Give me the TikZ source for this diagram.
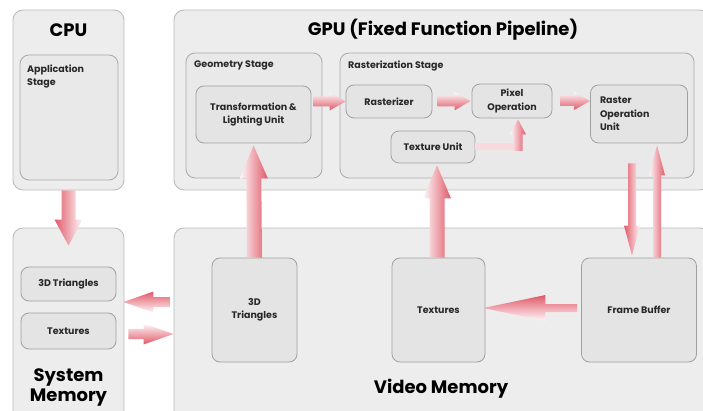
\documentclass[tikz,border=0pt]{standalone}
\usepackage{fontspec}
\setmainfont{Poppins}
\usetikzlibrary{calc}

\definecolor{flow}{RGB}{224,88,104}
\definecolor{panelfill}{RGB}{237,237,237}
\definecolor{panelline}{RGB}{188,188,188}
\definecolor{stagefill}{RGB}{233,233,233}
\definecolor{stageline}{RGB}{170,170,170}
\definecolor{unitfill}{RGB}{228,228,228}
\definecolor{unitline}{RGB}{160,160,160}
\definecolor{ink}{RGB}{40,40,40}

\begin{document}
\begin{tikzpicture}[x=1pt,y=-1pt,
  panel/.style={draw=panelline, fill=panelfill, line width=0.9pt, rounded corners=10pt, inner sep=0pt},
  stage/.style={draw=stageline, fill=stagefill, line width=0.8pt, rounded corners=9pt, inner sep=0pt},
  unit/.style={draw=unitline, fill=unitfill, line width=0.8pt, rounded corners=8pt, inner sep=2pt,
    align=center, text=ink, font=\fontsize{9.5}{13.5}\selectfont\bfseries},
  heading/.style={text=black, font=\fontsize{18}{22}\selectfont\bfseries, align=center},
  caption/.style={anchor=north west, inner sep=0pt, align=left, text=ink,
    font=\fontsize{9.5}{13}\selectfont\bfseries},
  % block arrow: half shaft width, half head width, head length
  fat/.style n args={3}{to path={
    ($(\tikztostart)!#1!90:(\tikztotarget)$)
    -- ($(\tikztotarget)!#3!(\tikztostart)!#1!90:(\tikztotarget)$)
    -- ($(\tikztotarget)!#3!(\tikztostart)!#2!90:(\tikztotarget)$)
    -- (\tikztotarget)
    -- ($(\tikztotarget)!#3!(\tikztostart)!#2!-90:(\tikztotarget)$)
    -- ($(\tikztotarget)!#3!(\tikztostart)!#1!-90:(\tikztotarget)$)
    -- ($(\tikztostart)!#1!-90:(\tikztotarget)$) -- cycle}},
  flow/.style={left color=flow!4, right color=flow, shading angle=#1, draw=none},
]
\useasboundingbox (0,0) rectangle (703,411);
\clip (0,0) rectangle (703,411);

% ---- CPU ----
\node[panel, minimum width=111pt, minimum height=180pt] (cpu) at (68.5,100) {};
\node[heading] at (68.5,30) {CPU};
\node[stage, minimum width=98pt, minimum height=125pt] (app) at (69,117.5) {};
\node[caption] at (27,65) {Application\\Stage};

% ---- GPU ----
\node[panel, minimum width=536pt, minimum height=180pt] (gpu) at (442,100) {};
\node[heading] at (443,30) {GPU (Fixed Function Pipeline)};

\node[stage, minimum width=136pt, minimum height=125pt] (geo) at (254,115.5) {};
\node[caption] at (194,61) {Geometry Stage};
\node[unit, minimum width=115pt, minimum height=57pt] (tl) at (253.5,114.5)
  {Transformation \&\\Lighting Unit};

\node[stage, minimum width=354pt, minimum height=125pt] (ras) at (517,115.5) {};
\node[caption] at (348,61) {Rasterization Stage};
\node[unit, minimum width=86pt, minimum height=33pt] (rasterizer) at (389,101.5) {Rasterizer};
\node[unit, minimum width=80pt, minimum height=34pt] (pixop) at (512,101) {Pixel\\Operation};
\node[unit, minimum width=84pt, minimum height=32pt] (texunit) at (433,147) {Texture Unit};
\node[unit, minimum width=97pt, minimum height=58pt, align=left, text width=78pt] (rop) at (639,114)
  {Raster\\Operation\\Unit};

% ---- System memory ----
\node[panel, minimum width=111pt, minimum height=200pt] (sysmem) at (68.5,328) {};
\node[unit, minimum width=95pt, minimum height=34pt] (systri) at (68.5,284) {3D Triangles};
\node[unit, minimum width=95pt, minimum height=36pt] (systex) at (68.5,331) {Textures};
\node[heading, font=\fontsize{18}{20}\selectfont\bfseries] at (68.5,387) {System\\Memory};

% ---- Video memory ----
\node[panel, minimum width=536pt, minimum height=200pt] (vidmem) at (442,328) {};
\node[unit, minimum width=85pt, minimum height=104pt] (vidtri) at (254.5,310) {3D\\Triangles};
\node[unit, minimum width=93pt, minimum height=104pt] (vidtex) at (438.5,310) {Textures};
\node[unit, minimum width=115pt, minimum height=104pt] (fb) at (639,310) {Frame Buffer};
\node[heading] at (441,389) {Video Memory};

% ---- data flow ----
\path[flow=-90] (cpu.south) to[fat={7pt}{14pt}{26pt}] ($(sysmem.north)+(0,18)$);
\path[flow=90] (vidtri.north) to[fat={7.5pt}{14pt}{33pt}] ($(tl.south)+(0,2)$);
\path[flow=90] ($(vidtex.north)+(-1.5,0)$) to[fat={7.5pt}{14pt}{33pt}] ($(vidtex.north |- texunit.south)+(-1.5,2)$);

\path[flow=0] ($(tl.east |- rasterizer.west)+(2,0)$) to[fat={5pt}{9pt}{16pt}] (rasterizer.west);
\path[flow=0] ($(rasterizer.east)+(5,0)$) to[fat={5pt}{9pt}{16pt}] ($(pixop.west)+(-1,0)$);
\path[flow=0] ($(pixop.east)+(8,0)$) to[fat={5pt}{9pt}{16pt}] (rop.west |- pixop.east);

\coordinate (elbow) at ($(pixop.south |- texunit.east)+(6,0)$);
\fill[flow!22] ($(texunit.east)+(0,-3.5)$) rectangle ($(elbow)+(4,3.5)$);
\path[flow=90] ($(elbow)+(0,4)$) to[fat={4.5pt}{8pt}{15pt}] ($(pixop.south)+(6,1)$);

\path[flow=-90] ($(rop.south)+(-7,20)$) to[fat={4pt}{8pt}{30pt}] ($(fb.north)+(-7,-2)$);
\path[flow=90] ($(fb.north)+(18,0)$) to[fat={4pt}{8pt}{30pt}] ($(rop.south)+(18,2)$);

\path[flow=180] ($(fb.west)+(-4,-2)$) to[fat={4pt}{13pt}{62pt}] ($(vidtex.east)+(-2,-2)$);

\path[flow=180] ($(vidmem.west)+(-4,-26)$) to[fat={5pt}{10.5pt}{30pt}] ($(sysmem.east)+(-1,-26)$);
\path[flow=0] ($(sysmem.east)+(4,6)$) to[fat={5pt}{10.5pt}{30pt}] ($(vidmem.west)+(0,6)$);
\end{tikzpicture}
\end{document}
